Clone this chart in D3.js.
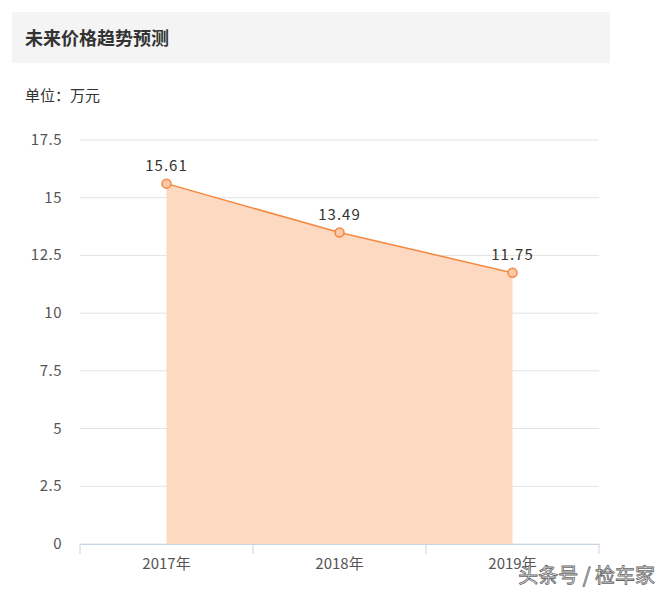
<!DOCTYPE html>
<html><head><meta charset="utf-8">
<script src="https://cdn.jsdelivr.net/npm/d3@7"></script>
<style>body{margin:0;background:#fff;font-family:"Noto Sans CJK SC","Noto Sans",sans-serif;}</style>
</head><body>
<svg id="c" width="670" height="592"></svg>
<script>
const categories = ["2017年","2018年","2019年"];
const values = [15.61, 13.49, 11.75];
const yTicks = [0, 2.5, 5, 7.5, 10, 12.5, 15, 17.5];
const title = "未来价格趋势预测";
const unit = "单位：万元";

const svg = d3.select("#c");
const font = '"Noto Sans CJK SC","Noto Sans",sans-serif';
svg.append("rect").attr("x",12).attr("y",12).attr("width",598).attr("height",51).attr("fill","#f4f4f4");
svg.append("text").attr("x",25).attr("y",45).text(title).attr("font-size",18).attr("font-weight","bold").attr("fill","#333").attr("font-family",font);
svg.append("text").attr("x",25).attr("y",101).text(unit).attr("font-size",15).attr("fill","#333").attr("font-family",font);

const x = d3.scaleBand().domain(categories).range([80,599]);
const y = d3.scaleLinear().domain([0,17.5]).range([544,140]);

const g = svg.append("g");
g.selectAll(".grid").data(yTicks).join("line")
 .attr("x1",80).attr("x2",599).attr("y1",d=>y(d)).attr("y2",d=>y(d))
 .attr("stroke","#e3e3e3").attr("stroke-width",1);
g.selectAll(".yl").data(yTicks).join("text")
 .attr("x",62).attr("y",d=>y(d)+5).attr("text-anchor","end")
 .attr("font-size",15).attr("fill","#555").attr("font-family",font).attr("letter-spacing",0.5).text(d=>d);

const cx = d => x(d)+x.bandwidth()/2;
const pts = categories.map((c,i)=>({c,v:values[i]}));
const area = d3.area().x(d=>cx(d.c)).y0(y(0)).y1(d=>y(d.v));
svg.append("path").datum(pts).attr("d",area).attr("fill","#fdd9c2");
const line = d3.line().x(d=>cx(d.c)).y(d=>y(d.v));
svg.append("path").datum(pts).attr("d",line).attr("fill","none").attr("stroke","#f5883f").attr("stroke-width",1.5);

// x axis
const xa = svg.append("g").attr("transform","translate(0,544)")
 .call(d3.axisBottom(x).tickSize(0).tickPadding(14));
xa.select(".domain").attr("stroke","#c9d4e3");
xa.selectAll("text").attr("font-size",15).attr("fill","#555").attr("font-family",font);
const bounds = categories.map(c=>x(c)).concat([x.range()[1]]);
svg.selectAll(".xt").data(bounds).join("line")
 .attr("x1",d=>d).attr("x2",d=>d).attr("y1",544).attr("y2",554)
 .attr("stroke","#c9d4e3");

svg.selectAll(".pt").data(pts).join("circle")
 .attr("cx",d=>cx(d.c)).attr("cy",d=>y(d.v)).attr("r",4.5)
 .attr("fill","#fcc9a7").attr("stroke","#f5883f").attr("stroke-width",1.5);
svg.selectAll(".lb").data(pts).join("text")
 .attr("x",d=>cx(d.c)).attr("y",d=>y(d.v)-13).attr("text-anchor","middle")
 .attr("font-size",15).attr("fill","#333").attr("font-family",font).attr("letter-spacing",1)
 .text(d=>d.v.toFixed(2));

svg.append("text").attr("x",655).attr("y",583).attr("text-anchor","end")
 .attr("font-size",20).attr("fill","#fff").attr("stroke","#666").attr("stroke-width",0.8)
 .attr("font-family",font).text("头条号 / 检车家");
</script>
</body></html>
